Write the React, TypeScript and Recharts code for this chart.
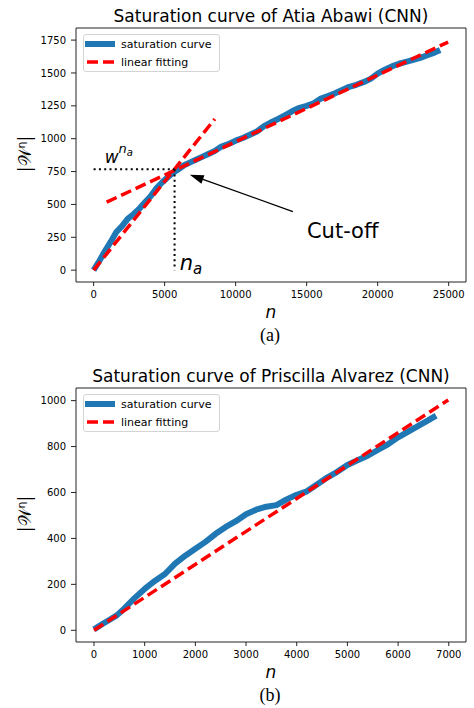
import { LineChart, Line, XAxis, YAxis, Legend, ReferenceLine, ReferenceDot } from 'recharts';

const FONT = '"DejaVu Sans", "Noto Sans", sans-serif';
const SERIF = '"Liberation Serif", "DejaVu Serif", serif';
const BLUE = '#1f77b4';
const RED = '#ff0000';

// (a) Atia Abawi
const abawiSteps = [
  0, 400, 800, 1200, 1600, 2000, 2400, 2800, 3200, 3600, 4000, 4400, 4800, 5200, 5600, 6000,
  6400, 6800, 7200, 7600, 8000, 8500, 9000, 9500, 10000, 10500, 11000, 11500, 12000, 12500,
  13000, 13500, 14000, 14500, 15000, 15500, 16000, 16500, 17000, 17500, 18000, 18500, 19000,
  19500, 20000, 20500, 21000, 21500, 22000, 22500, 23000, 23500, 24000, 24400,
];
const abawiSizes = [
  0, 70, 145, 215, 290, 335, 390, 425, 465, 515, 560, 620, 665, 705, 742, 770,
  800, 820, 840, 860, 880, 905, 940, 960, 985, 1005, 1030, 1055, 1095, 1125,
  1150, 1180, 1210, 1235, 1250, 1270, 1305, 1325, 1345, 1370, 1395, 1410, 1430,
  1455, 1495, 1525, 1550, 1570, 1585, 1600, 1615, 1635, 1655, 1675,
];
const abawiEarlyFitSteps = [0, 8530];
const abawiEarlyFitSizes = [0, 1150];
const abawiLateFitSteps = [917, 24960];
const abawiLateFitSizes = [517, 1735];
const abawiCutoffStep = 5700;
const abawiCutoffSize = 768;
const abawiXTicks = [0, 5000, 10000, 15000, 20000, 25000];
const abawiYTicks = [0, 250, 500, 750, 1000, 1250, 1500, 1750];

// (b) Priscilla Alvarez
const alvarezSteps = [
  0, 150, 300, 450, 600, 800, 1000, 1200, 1400, 1600, 1800, 2000, 2200, 2400, 2600, 2800,
  3000, 3200, 3400, 3600, 3800, 4000, 4200, 4400, 4600, 4800, 5000, 5200, 5400, 5600, 5800,
  6000, 6200, 6400, 6600, 6750,
];
const alvarezSizes = [
  4, 25, 45, 65, 95, 140, 180, 215, 245, 290, 325, 355, 385, 420, 450, 475,
  505, 525, 538, 545, 570, 590, 605, 635, 665, 690, 720, 740, 760, 785, 810,
  840, 865, 890, 915, 935,
];
const alvarezFitSteps = [0, 6990];
const alvarezFitSizes = [0, 1003];
const alvarezXTicks = [0, 1000, 2000, 3000, 4000, 5000, 6000, 7000];
const alvarezYTicks = [0, 200, 400, 600, 800, 1000];

const toPoints = (xs: number[], ys: number[]) => xs.map((n, i) => ({ n, w: ys[i] }));

const renderLegend = () => (
  <div
    style={{
      boxSizing: 'border-box',
      width: 137,
      height: 38,
      border: '1px solid #d4d4d4',
      borderRadius: 3,
      background: 'rgba(255,255,255,0.8)',
      fontFamily: FONT,
      fontSize: 11,
      paddingLeft: 1,
    }}
  >
    <div style={{ display: 'flex', alignItems: 'center', height: 18 }}>
      <svg width={30} height={18}>
        <line x1={0} x2={30} y1={9} y2={9} stroke={BLUE} strokeWidth={6} />
      </svg>
      <span style={{ marginLeft: 6 }}>saturation curve</span>
    </div>
    <div style={{ display: 'flex', alignItems: 'center', height: 18 }}>
      <svg width={30} height={18}>
        <line x1={2} x2={30} y1={9} y2={9} stroke={RED} strokeWidth={3.5} strokeDasharray="11 5" />
      </svg>
      <span style={{ marginLeft: 6 }}>linear fitting</span>
    </div>
  </div>
);

const ArrowShape = (props: any) => {
  const { x1, y1, x2, y2 } = props;
  const ang = Math.atan2(y2 - y1, x2 - x1);
  const len = 14;
  const half = 4.5;
  const bx = x2 - len * Math.cos(ang);
  const by = y2 - len * Math.sin(ang);
  const px = -Math.sin(ang) * half;
  const py = Math.cos(ang) * half;
  return (
    <g>
      <line x1={x1} y1={y1} x2={bx} y2={by} stroke="#000" strokeWidth={1.3} />
      <polygon points={`${x2},${y2} ${bx + px},${by + py} ${bx - px},${by - py}`} fill="#000" />
    </g>
  );
};

const WLabel = (p: any) => (
  <text x={p.cx} y={p.cy} fontFamily={FONT} fontStyle="italic" fontSize={17} fill="#000">
    w
    <tspan fontSize={13} dy={-10}>n</tspan>
    <tspan fontSize={10} dy={3}>a</tspan>
  </text>
);

const NaLabel = (p: any) => (
  <text x={p.cx} y={p.cy} fontFamily={FONT} fontStyle="italic" fontSize={21} fill="#000">
    n
    <tspan fontSize={15} dy={4}>a</tspan>
  </text>
);

const CutoffLabel = (p: any) => (
  <text x={p.cx} y={p.cy} fontFamily={FONT} fontSize={21} fill="#000">
    Cut-off
  </text>
);

const tickStyle = { fontSize: 10, fill: '#000', fontFamily: FONT };

interface PanelProps {
  top: number;
  title: string;
  caption: string;
  curve: { n: number; w: number }[];
  fits: { n: number; w: number }[][];
  xDomain: [number, number];
  yDomain: [number, number];
  xTicks: number[];
  yTicks: number[];
  extra?: any[];
}

const Panel = ({ top, title, caption, curve, fits, xDomain, yDomain, xTicks, yTicks, extra }: PanelProps) => (
  <div style={{ position: 'absolute', left: 0, top, width: 474, height: 345 }}>
    <div
      style={{
        position: 'absolute',
        left: 76,
        width: 390,
        top: 6,
        textAlign: 'center',
        fontFamily: FONT,
        fontSize: 17,
        lineHeight: '20px',
        whiteSpace: 'nowrap',
      }}
    >
      {title}
    </div>
    <div
      style={{
        position: 'absolute',
        left: 25,
        top: 154,
        transform: 'translate(-50%, -50%) rotate(-90deg)',
        fontFamily: FONT,
        fontSize: 17,
        whiteSpace: 'nowrap',
      }}
    >
      |𝒲<sup style={{ fontSize: 11 }}>η</sup>|
    </div>
    <LineChart width={474} height={322} margin={{ top: 28, right: 8, bottom: 0, left: 0 }}>
      <XAxis
        type="number"
        dataKey="n"
        domain={xDomain}
        ticks={xTicks}
        interval={0}
        allowDataOverflow
        height={40}
        tickSize={4}
        tickMargin={5}
        stroke="#222"
        tick={tickStyle}
        label={{ value: 'n', position: 'insideBottom', offset: 4, fontSize: 17, fontStyle: 'italic', fontFamily: FONT, fill: '#000' }}
      />
      <YAxis
        type="number"
        dataKey="w"
        domain={yDomain}
        ticks={yTicks}
        interval={0}
        allowDataOverflow
        width={76}
        tickSize={5}
        tickMargin={5}
        stroke="#222"
        tick={tickStyle}
      />
      <Legend
        layout="vertical"
        verticalAlign="middle"
        align="center"
        wrapperStyle={{ left: 83, top: 34, width: 137 }}
        content={renderLegend}
      />
      {/* top and right spines */}
      <ReferenceLine y={yDomain[1]} stroke="#222" strokeWidth={1} />
      <ReferenceLine x={xDomain[1]} stroke="#222" strokeWidth={1} />
      <Line
        data={curve}
        dataKey="w"
        type="linear"
        stroke={BLUE}
        strokeWidth={6}
        strokeLinejoin="round"
        dot={false}
        isAnimationActive={false}
      />
      {fits.map((f, i) => (
        <Line
          key={i}
          data={f}
          dataKey="w"
          type="linear"
          stroke={RED}
          strokeWidth={3.5}
          strokeDasharray="11 5"
          dot={false}
          isAnimationActive={false}
        />
      ))}
      {extra}
    </LineChart>
    <div
      style={{
        position: 'absolute',
        left: 220,
        width: 100,
        top: 325,
        textAlign: 'center',
        fontFamily: SERIF,
        fontSize: 18,
        lineHeight: '20px',
      }}
    >
      {caption}
    </div>
  </div>
);

const abawiExtra = [
  <ReferenceLine
    key="h"
    segment={[{ x: 0, y: abawiCutoffSize }, { x: abawiCutoffStep, y: abawiCutoffSize }]}
    stroke="#000"
    strokeWidth={2}
    strokeDasharray="2 3.3"
  />,
  <ReferenceLine
    key="v"
    segment={[{ x: abawiCutoffStep, y: abawiCutoffSize }, { x: abawiCutoffStep, y: 0 }]}
    stroke="#000"
    strokeWidth={2}
    strokeDasharray="2 3.3"
  />,
  <ReferenceLine key="arrow" segment={[{ x: 14030, y: 446 }, { x: 6770, y: 726 }]} shape={ArrowShape} />,
  <ReferenceDot key="w" x={776} y={817} r={0} shape={WLabel} />,
  <ReferenceDot key="na" x={6065} y={0} r={0} shape={NaLabel} />,
  <ReferenceDot key="cut" x={15020} y={242} r={0} shape={CutoffLabel} />,
];

export default function App() {
  return (
    <div style={{ position: 'absolute', left: 0, top: 0, width: 474, height: 708, background: '#fff' }}>
      <Panel
        top={0}
        title="Saturation curve of Atia Abawi (CNN)"
        caption="(a)"
        curve={toPoints(abawiSteps, abawiSizes)}
        fits={[toPoints(abawiEarlyFitSteps, abawiEarlyFitSizes), toPoints(abawiLateFitSteps, abawiLateFitSizes)]}
        xDomain={[-1240, 26220]}
        yDomain={[-90, 1842]}
        xTicks={abawiXTicks}
        yTicks={abawiYTicks}
        extra={abawiExtra}
      />
      <Panel
        top={360}
        title="Saturation curve of Priscilla Alvarez (CNN)"
        caption="(b)"
        curve={toPoints(alvarezSteps, alvarezSizes)}
        fits={[toPoints(alvarezFitSteps, alvarezFitSizes)]}
        xDomain={[-355, 7340]}
        yDomain={[-51, 1055]}
        xTicks={alvarezXTicks}
        yTicks={alvarezYTicks}
      />
    </div>
  );
}
